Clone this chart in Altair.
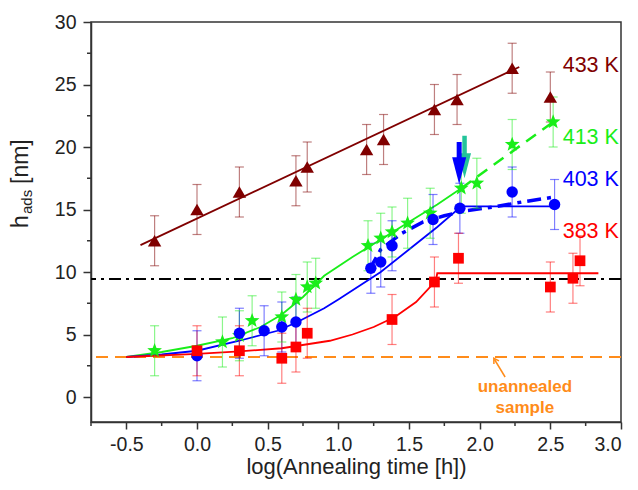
import altair as alt
import pandas as pd

# ---------------- measured points: log(time [h]), h_ads [nm], error [nm] ----------------
x_433 = [-0.30, 0.00, 0.30, 0.70, 0.78, 1.20, 1.32, 1.68, 1.84, 2.23, 2.50]
y_433 = [12.5, 15.0, 16.4, 17.3, 18.4, 19.8, 20.6, 23.0, 23.8, 26.3, 24.0]
e_433 = [2.0, 2.0, 2.0, 2.0, 2.0, 2.0, 2.0, 2.0, 2.0, 2.0, 2.0]

x_413 = [-0.30, 0.18, 0.30, 0.39, 0.60, 0.70, 0.78, 0.84, 1.21, 1.30, 1.38, 1.49, 1.65, 1.87, 1.98, 2.23, 2.52]
y_413 = [3.7, 4.4, 4.9, 6.1, 6.4, 7.8, 8.8, 9.1, 12.1, 12.7, 13.2, 13.9, 14.7, 16.7, 17.1, 20.2, 22.0]
e_413 = [2.0, 2.0, 2.0, 2.0, 2.0, 2.0, 2.0, 2.0, 2.0, 2.0, 2.0, 2.0, 2.0, 2.0, 2.0, 2.0, 2.0]

x_403 = [0.00, 0.30, 0.475, 0.60, 0.70, 1.23, 1.30, 1.38, 1.67, 1.86, 2.23, 2.53]
y_403 = [3.3, 5.1, 5.3, 5.6, 6.0, 10.3, 10.8, 12.1, 14.2, 15.1, 16.4, 15.4]
e_403 = [2.0, 2.0, 2.0, 2.0, 2.0, 2.0, 2.0, 2.0, 2.0, 2.0, 2.0, 2.0]

x_383 = [0.00, 0.30, 0.60, 0.70, 0.78, 1.38, 1.68, 1.85, 2.50, 2.66, 2.71]
y_383 = [3.7, 3.7, 3.1, 4.0, 5.1, 6.2, 9.2, 11.1, 8.8, 9.5, 10.9]
e_383 = [2.0, 2.0, 2.0, 2.0, 2.0, 2.0, 2.0, 2.0, 2.0, 2.0, 2.0]

# ---------------- fitted curves ----------------
fx_433 = [-0.40, 2.28]
fy_433 = [12.15, 26.4]

fx_413 = [-0.50, -0.25, 0.00, 0.25, 0.45, 0.60, 0.75, 0.90, 1.10, 1.30, 1.50, 1.70, 1.87]
fy_413 = [3.2, 3.6, 4.1, 4.7, 5.6, 6.6, 8.0, 9.7, 11.2, 12.6, 14.0, 15.4, 16.7]
dx_413 = [1.87, 2.52]
dy_413 = [16.7, 22.0]

fx_403 = [-0.50, -0.25, 0.00, 0.30, 0.57, 0.71, 0.90, 1.00, 1.15, 1.30, 1.50, 1.70, 1.87, 2.53]
fy_403 = [3.2, 3.4, 3.7, 4.5, 5.3, 6.0, 7.1, 7.8, 8.9, 10.0, 11.8, 13.6, 15.25, 15.25]
ddx_403 = [1.22, 1.30, 1.45, 1.60, 1.75, 1.90, 2.10, 2.30, 2.53]
ddy_403 = [10.2, 11.8, 13.1, 14.0, 14.5, 14.9, 15.2, 15.6, 16.0]

fx_383 = [-0.50, 0.00, 0.30, 0.60, 0.94, 1.10, 1.25, 1.40, 1.55, 1.69, 1.70, 2.84]
fy_383 = [3.2, 3.45, 3.65, 3.9, 4.5, 5.0, 5.6, 6.4, 7.6, 9.3, 9.9, 9.9]

# reference levels
level_black = [9.45]
level_orange = [3.2]

# labels
series = ["433", "413", "403", "383"]
colors = ["#800000", "#19ee19", "#0000ff", "#ff0000"]
label_text = ["433 K", "413 K", "403 K", "383 K"]
label_y = [26.5, 20.7, 17.4, 13.2]
x_major = [-0.5, 0.0, 0.5, 1.0, 1.5, 2.0, 2.5, 3.0]
x_minor = [-0.75, -0.25, 0.25, 0.75, 1.25, 1.75, 2.25, 2.75]
y_major = [0, 5, 10, 15, 20, 25, 30]
y_minor = [2.5, 7.5, 12.5, 17.5, 22.5, 27.5]

W, H = 530, 400
FONT = "Liberation Sans"
XS = alt.Scale(domain=[-0.75, 3.0], nice=False, zero=False)
YS = alt.Scale(domain=[-2, 30], nice=False, zero=False)
CS = alt.Scale(domain=series, range=colors)

AX = alt.Axis(
    values=x_major, title="log(Annealing time [h])", titleFontSize=22, titlePadding=3,
    labelExpr="datum.value < 0 ? '-' + format(-datum.value, '.1f') : format(datum.value, '.1f')",
    tickSize=7, labelPadding=6)
AY = alt.Axis(values=y_major, title=None, format="d", tickSize=8, labelPadding=7)

STAR = ("M0,-1L0.247,-0.34L0.951,-0.309L0.399,0.13L0.588,0.809L0,0.42"
        "L-0.588,0.809L-0.399,0.13L-0.951,-0.309L-0.247,-0.34Z")
HEAD = "M-0.52,-1L0.52,-1L0,1Z"

pts = pd.concat([
    pd.DataFrame({"s": s, "x": xs, "y": ys, "e": es})
    for s, xs, ys, es in [("433", x_433, y_433, e_433), ("413", x_413, y_413, e_413),
                          ("403", x_403, y_403, e_403), ("383", x_383, y_383, e_383)]
], ignore_index=True)
pts["lo"] = pts["y"] - pts["e"]
pts["hi"] = pts["y"] + pts["e"]

def line_df(s, xs, ys):
    return pd.DataFrame({"s": s, "x": xs, "y": ys, "o": list(range(len(xs)))})

solid = pd.concat([line_df("433", fx_433, fy_433), line_df("413", fx_413, fy_413),
                   line_df("403", fx_403, fy_403), line_df("383", fx_383, fy_383)], ignore_index=True)

xq = lambda f="x": alt.X(f"{f}:Q", scale=XS, axis=AX)
yq = lambda f="y": alt.Y(f"{f}:Q", scale=YS, axis=AY)
col = alt.Color("s:N", scale=CS, legend=None)

minor_x = alt.Chart(pd.DataFrame({"x": x_minor})).mark_rule(color="#333333", strokeWidth=1.5).encode(
    x=xq(), y=alt.value(H), y2=alt.value(H + 4))
minor_y = alt.Chart(pd.DataFrame({"y": y_minor})).mark_rule(color="#333333", strokeWidth=1.5).encode(
    y=yq(), x=alt.value(0), x2=alt.value(-4))

hl_black = alt.Chart(pd.DataFrame({"y": level_black})).mark_rule(
    color="#000000", strokeWidth=2, strokeDash=[12, 5, 3, 5]).encode(y=yq())
hl_orange = alt.Chart(pd.DataFrame({"y": level_orange})).mark_rule(
    color="#ff8c1a", strokeWidth=2, strokeDash=[12, 7]).encode(y=yq())

fit_solid = alt.Chart(solid).mark_line(strokeWidth=1.8).encode(
    x=xq(), y=yq(), color=col, detail="s:N", order="o:Q")
fit_green_dash = alt.Chart(line_df("413", dx_413, dy_413)).mark_line(
    strokeWidth=2.5, strokeDash=[12, 8]).encode(x=xq(), y=yq(), color=col, order="o:Q")
fit_blue_dd = alt.Chart(line_df("403", ddx_403, ddy_403)).mark_line(
    strokeWidth=3.5, strokeDash=[14, 6, 4, 6]).encode(x=xq(), y=yq(), color=col, order="o:Q")

err = alt.Chart(pts).mark_rule(strokeWidth=1.2, opacity=0.5).encode(
    x=xq(), y=yq("lo"), y2="hi:Q", color=col)
cap_lo = alt.Chart(pts).mark_tick(orient="horizontal", size=9, thickness=1.2, opacity=0.5).encode(
    x=xq(), y=yq("lo"), color=col)
cap_hi = alt.Chart(pts).mark_tick(orient="horizontal", size=9, thickness=1.2, opacity=0.5).encode(
    x=xq(), y=yq("hi"), color=col)

def markers(s, shape, size):
    return alt.Chart(pts[pts["s"] == s]).mark_point(
        filled=True, opacity=1, shape=shape, size=size, strokeWidth=0).encode(
        x=xq(), y=yq(), color=col)

m433 = markers("433", "triangle-up", 180)
m413 = markers("413", STAR, 240)
m403 = markers("403", "circle", 130)
m383 = markers("383", "square", 115)

teal_shaft = alt.Chart(pd.DataFrame({"x": [1.893], "y": [20.9], "y2": [19.2]})).mark_rule(
    color="#22c49a", strokeWidth=4.5).encode(x=xq(), y=yq(), y2="y2:Q")
teal_head = alt.Chart(pd.DataFrame({"x": [1.893], "y": [18.5]})).mark_point(
    filled=True, opacity=1, shape=HEAD, size=625, color="#22c49a", strokeWidth=0).encode(x=xq(), y=yq())
blue_shaft = alt.Chart(pd.DataFrame({"x": [1.855], "y": [20.4], "y2": [18.9]})).mark_rule(
    color="#0000ff", strokeWidth=5).encode(x=xq(), y=yq(), y2="y2:Q")
blue_head = alt.Chart(pd.DataFrame({"x": [1.855], "y": [18.1]})).mark_point(
    filled=True, opacity=1, shape=HEAD, size=729, color="#0000ff", strokeWidth=0).encode(x=xq(), y=yq())

ann_line = alt.Chart(pd.DataFrame({"x": [2.18], "y": [1.6], "x2": [2.105], "y2": [3.0]})).mark_rule(
    color="#ff8c1a", strokeWidth=1.5).encode(x=xq(), y=yq(), x2="x2:Q", y2="y2:Q")
ann_head = alt.Chart(pd.DataFrame({"x": [2.10], "y": [3.1]})).mark_point(
    filled=False, opacity=1, shape="M-0.6,1L0,0L0.6,1", size=100, angle=328,
    color="#ff8c1a", strokeWidth=1.5).encode(x=xq(), y=yq())
ann_text = alt.Chart(pd.DataFrame({"x": [2.32, 2.32], "y": [0.8, -0.9], "t": ["unannealed", "sample"]})).mark_text(
    color="#ff8c1a", fontSize=17, fontWeight="bold", font=FONT).encode(x=xq(), y=yq(), text="t:N")

labels = alt.Chart(pd.DataFrame({"s": series, "t": label_text, "x": [2.985] * 4, "y": label_y})).mark_text(
    align="right", fontSize=21.5, font=FONT).encode(x=xq(), y=yq(), text="t:N", color=col)

one = pd.DataFrame({"a": [0]})
yt_h = alt.Chart(one).mark_text(text="h", angle=270, align="left", baseline="alphabetic",
                                fontSize=23, font=FONT, color="#222222").encode(
    x=alt.value(-63), y=alt.value(206))
yt_ads = alt.Chart(one).mark_text(text="ads", angle=270, align="left", baseline="alphabetic",
                                  fontSize=15, font=FONT, color="#222222").encode(
    x=alt.value(-59), y=alt.value(192))
yt_nm = alt.Chart(one).mark_text(text="[nm]", angle=270, align="left", baseline="alphabetic",
                                 fontSize=23, font=FONT, color="#222222").encode(
    x=alt.value(-63), y=alt.value(162))

chart = alt.layer(
    minor_x, minor_y, hl_orange, hl_black,
    fit_solid, fit_green_dash, fit_blue_dd,
    err, cap_lo, cap_hi,
    m433, m413, m403, m383,
    teal_shaft, teal_head, blue_shaft, blue_head,
    ann_line, ann_head, ann_text, labels,
    yt_h, yt_ads, yt_nm,
).properties(
    width=W, height=H,
    autosize=alt.AutoSizeParams(type="none"),
    padding={"left": 83, "top": 14, "right": 9, "bottom": 60},
    background="white",
).configure_view(
    stroke="#333333", strokeWidth=1.5
).configure_axis(
    grid=False, domainColor="#333333", domainWidth=1.5, tickColor="#333333", tickWidth=1.5,
    labelFontSize=19.5, labelColor="#222222", labelFont=FONT, titleFont=FONT,
    titleColor="#222222", titleFontWeight="normal",
)

chart.save("out.html", embed_options={"renderer": "svg", "actions": False})
